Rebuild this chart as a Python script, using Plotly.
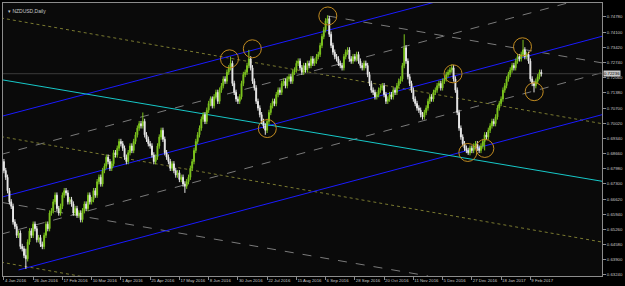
import plotly.graph_objects as go

# ---------------- data ----------------
first_open = 0.6830
closes = [
 0.6790,0.6760,0.6700,0.6650,0.6630,0.6560,0.6540,0.6500,0.6510,0.6450,
 0.6440,0.6410,0.6395,0.6470,0.6520,0.6500,0.6550,0.6530,0.6480,0.6490,
 0.6460,0.6450,0.6500,0.6550,0.6530,0.6600,0.6610,0.6650,0.6680,0.6620,
 0.6600,0.6630,0.6680,0.6700,0.6690,0.6650,0.6660,0.6640,0.6600,0.6620,
 0.6590,0.6600,0.6570,0.6610,0.6640,0.6620,0.6680,0.6650,0.6660,0.6700,
 0.6680,0.6740,0.6760,0.6730,0.6790,0.6810,0.6850,0.6830,0.6800,0.6820,
 0.6870,0.6860,0.6890,0.6920,0.6910,0.6890,0.6850,0.6830,0.6870,0.6900,
 0.6880,0.6920,0.6950,0.6980,0.7000,0.6990,0.7010,0.6950,0.6930,0.6910,
 0.6900,0.6860,0.6830,0.6850,0.6900,0.6940,0.6970,0.6930,0.6870,0.6850,
 0.6830,0.6800,0.6820,0.6790,0.6770,0.6780,0.6750,0.6760,0.6730,0.6720,
 0.6740,0.6760,0.6800,0.6830,0.6880,0.6920,0.6950,0.6980,0.7020,0.7040,
 0.7010,0.7060,0.7090,0.7110,0.7080,0.7120,0.7140,0.7100,0.7150,0.7170,
 0.7200,0.7190,0.7230,0.7250,0.7270,0.7180,0.7140,0.7110,0.7100,0.7120,
 0.7180,0.7220,0.7230,0.7260,0.7290,0.7250,0.7190,0.7160,0.7100,0.7070,
 0.7040,0.7010,0.6990,0.6970,0.7010,0.7050,0.7080,0.7100,0.7090,0.7130,
 0.7150,0.7140,0.7180,0.7190,0.7170,0.7200,0.7210,0.7190,0.7230,0.7240,
 0.7270,0.7280,0.7250,0.7230,0.7260,0.7240,0.7270,0.7260,0.7290,0.7270,
 0.7280,0.7300,0.7310,0.7350,0.7390,0.7420,0.7460,0.7470,0.7400,0.7350,
 0.7320,0.7300,0.7290,0.7270,0.7260,0.7250,0.7300,0.7320,0.7330,0.7290,
 0.7280,0.7300,0.7290,0.7310,0.7280,0.7260,0.7250,0.7270,0.7260,0.7220,
 0.7180,0.7150,0.7140,0.7120,0.7130,0.7150,0.7160,0.7170,0.7130,0.7100,
 0.7110,0.7130,0.7120,0.7150,0.7140,0.7170,0.7190,0.7200,0.7260,0.7340,
 0.7280,0.7210,0.7180,0.7150,0.7110,0.7090,0.7070,0.7060,0.7040,0.7030,
 0.7050,0.7070,0.7100,0.7120,0.7110,0.7140,0.7150,0.7170,0.7180,0.7160,
 0.7190,0.7200,0.7220,0.7230,0.7240,0.7250,0.7200,0.7150,0.7050,0.6980,
 0.6940,0.6910,0.6890,0.6880,0.6870,0.6890,0.6880,0.6900,0.6910,0.6890,
 0.6880,0.6900,0.6920,0.6950,0.6940,0.6970,0.6990,0.7010,0.7000,0.7030,
 0.7070,0.7090,0.7110,0.7150,0.7170,0.7200,0.7220,0.7240,0.7260,0.7250,
 0.7280,0.7300,0.7290,0.7310,0.7330,0.7300,0.7310,0.7280,0.7200,0.7180,
 0.7170,0.7190,0.7210,0.7230,0.7223,
]
wick = 0.0012
# bars whose high / low reach well beyond the body (bar index -> price)
spike_highs = {12: 0.6440, 76: 0.7050, 124: 0.7300, 134: 0.7330, 177: 0.7485,
               219: 0.7400, 245: 0.7265, 284: 0.7375}
spike_lows = {12: 0.6350, 99: 0.6690, 143: 0.6950, 254: 0.6860, 263: 0.6880, 290: 0.7140}

date_labels = ["4 Jan 2016", "26 Jan 2016", "17 Feb 2016", "10 Mar 2016", "1 Apr 2016",
               "25 Apr 2016", "17 May 2016", "8 Jun 2016", "30 Jun 2016", "22 Jul 2016",
               "15 Aug 2016", "6 Sep 2016", "28 Sep 2016", "20 Oct 2016", "11 Nov 2016",
               "5 Dec 2016", "27 Dec 2016", "18 Jan 2017", "9 Feb 2017"]
label_step = 16

price_ticks = [0.63240, 0.63900, 0.64580, 0.65260, 0.65940, 0.66620, 0.67300, 0.67980,
               0.68660, 0.69340, 0.70020, 0.70700, 0.71380, 0.72060, 0.72740, 0.73420,
               0.74100, 0.74780]

# trend lines: (bar0, price0, bar1, price1)
blue_lines = [(-1.6, 0.7032, 238.1, 0.7549), (-1.6, 0.6670, 327.2, 0.7391), (8.0, 0.6345, 327.2, 0.7040)]
cyan_lines = [(-1.6, 0.7197, 327.2, 0.6742)]
olive_lines = [(-1.6, 0.7473, 327.2, 0.7000), (-1.6, 0.6942, 327.2, 0.6470), (-1.6, 0.6380, 44.6, 0.6313)]
gray_lines = [(-1.6, 0.6862, 312.5, 0.7549), (-1.6, 0.6505, 327.2, 0.7228),
              (-1.6, 0.6648, 232.1, 0.6318), (177.2, 0.7482, 327.2, 0.7272)]

circle_bars = [123.4, 135.9, 144.1, 177.2, 245.7, 253.8, 263.1, 283.7, 290.1]
circle_prices = [0.7290, 0.7335, 0.6978, 0.7482, 0.7223, 0.6871, 0.6889, 0.7344, 0.7143]

bid = 0.72236
bid_text = "0.72236"

# ---------------- figure ----------------
n = len(closes)
idx = list(range(n))
opens = [first_open] + closes[:-1]
highs = [spike_highs.get(i, max(o, c) + wick) for i, (o, c) in enumerate(zip(opens, closes))]
lows = [spike_lows.get(i, min(o, c) - wick) for i, (o, c) in enumerate(zip(opens, closes))]

fig = go.Figure()
fig.add_trace(go.Candlestick(
    x=idx, open=opens, high=highs, low=lows, close=closes,
    increasing=dict(line=dict(color="#7cc41e", width=1), fillcolor="#8fd62a"),
    decreasing=dict(line=dict(color="#e8e8e8", width=1), fillcolor="#ffffff"),
    whiskerwidth=0, showlegend=False, hoverinfo="skip"))

def add_lines(lines, color, dash, width=1):
    for (x0, y0, x1, y1) in lines:
        fig.add_shape(type="line", x0=x0, y0=y0, x1=x1, y1=y1, xref="x", yref="y",
                      line=dict(color=color, width=width, dash=dash), layer="below")

add_lines(gray_lines, "#7a7a7a", "dash")
add_lines(olive_lines, "#7a7a30", "dot")
add_lines(blue_lines, "#1a1aff", "solid")
add_lines(cyan_lines, "#17c8c8", "solid")

fig.add_shape(type="line", x0=-0.5, x1=327.2, y0=bid, y1=bid, xref="x", yref="y",
              line=dict(color="#3a3a3a", width=1), layer="below")

fig.add_trace(go.Scatter(x=circle_bars, y=circle_prices, mode="markers",
                         marker=dict(symbol="circle-open", size=18,
                                     line=dict(color="#c08a20", width=1), color="#c08a20"),
                         showlegend=False, hoverinfo="skip"))

FONT = "Liberation Sans"
fig.add_annotation(x=0, y=1, xref="paper", yref="paper", xanchor="left", yanchor="top",
                   text="▾ NZDUSD,Daily", showarrow=False, xshift=3, yshift=-3,
                   font=dict(family=FONT, size=5, color="#c8c8c8"))

fig.add_annotation(x=1, y=bid, xref="paper", yref="y", xanchor="left", yanchor="middle",
                   text=bid_text, showarrow=False, xshift=1,
                   bgcolor="#c8c8c8", borderpad=0,
                   font=dict(family=FONT, size=4.3, color="#000000"))

fig.update_layout(
    width=625, height=286,
    margin=dict(l=2, r=20, t=2, b=10),
    paper_bgcolor="#000000", plot_bgcolor="#0a0a0a",
    xaxis=dict(range=[-0.5, 327.2], showgrid=False, zeroline=False, rangeslider=dict(visible=False),
               tickvals=[i * label_step for i in range(len(date_labels))], ticktext=date_labels,
               tickangle=0, ticks="outside", ticklen=3, tickcolor="#8c8c8c",
               ticklabelposition="outside right",
               showline=True, linecolor="#8c8c8c", mirror=True,
               tickfont=dict(family=FONT, size=4.3, color="#c8c8c8")),
    yaxis=dict(range=[0.6318, 0.7540], side="right", showgrid=False, zeroline=False,
               tickvals=price_ticks, ticktext=[f"{v:.5f}" for v in price_ticks],
               ticks="outside", ticklen=3, tickcolor="#8c8c8c",
               showline=True, linecolor="#8c8c8c", mirror=True,
               tickfont=dict(family=FONT, size=4.3, color="#c8c8c8")),
)

fig.write_html("out.html")
